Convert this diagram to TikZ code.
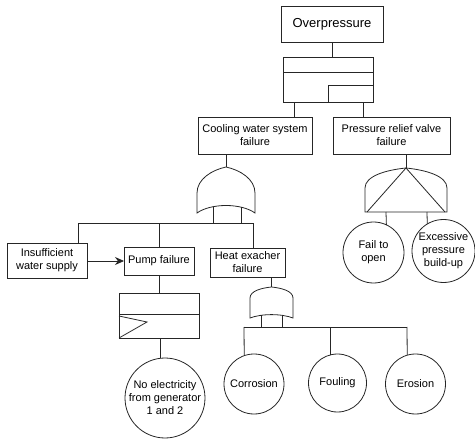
\documentclass[tikz,border=0pt]{standalone}
\usepackage{fontspec}
\setmainfont{Liberation Sans}
\usetikzlibrary{arrows.meta}
\begin{document}
\begin{tikzpicture}[x=1pt,y=-1pt,line width=0.8pt,color=black!85,
  box/.style={draw,rectangle,inner sep=0pt,outer sep=0pt,align=center,text=black,font=\fontsize{11}{13}\selectfont},
  plainbox/.style={draw,rectangle,inner sep=0pt,outer sep=0pt},
  evt/.style={draw,circle,inner sep=0pt,outer sep=0pt,align=center,text=black,font=\fontsize{11}{13}\selectfont}]
\useasboundingbox (0,0) rectangle (475,439);

% top event
\node[box,minimum width=102pt,minimum height=36pt,font=\fontsize{13}{15}\selectfont] (top) at (332,24) {Overpressure};
% priority gate box
\node[plainbox,minimum width=90pt,minimum height=45pt] (pri) at (328,79.5) {};
\draw (pri.west |- 0,72) -- (pri.east |- 0,72);
\draw (pri.south) -- ++(0,-17) -- (pri.east |- 0,85);
\draw (top.south -| pri.north) ++(4,0) -- ([xshift=4pt]pri.north);

% intermediate events
\node[box,minimum width=114pt,minimum height=37pt] (cool) at (255,135.5) {Cooling water system\\failure};
\node[box,minimum width=117pt,minimum height=37pt] (prv) at (391.5,135.5) {Pressure relief valve\\failure};
\draw (pri.south -| 294,0) -- (cool.north -| 294,0);
\draw (pri.south -| 363,0) -- (prv.north -| 363,0);

% OR gate under cooling
\coordinate (g1) at (226,167);
\draw[shift={(g1)}] (-29,46) -- (-29,26) .. controls (-29,12) and (-14,3) .. (0,0)
  .. controls (14,3) and (29,12) .. (29,26) -- (29,46) .. controls (15,36) and (-15,36) .. cycle;
\draw (cool.south -| g1) -- (g1);
\coordinate (bus1L) at (78,223);
\coordinate (bus1R) at (253,223);
\draw ([shift={(-13,39.5)}]g1) -- ([shift={(-13,56)}]g1);
\draw ([shift={(15,39.5)}]g1) -- ([shift={(15,56)}]g1);
\draw (bus1L) -- (bus1R);

% level 2 boxes
\node[box,minimum width=80pt,minimum height=35pt] (ins) at (47,260.5) {Insufficient\\water supply};
\node[box,minimum width=70pt,minimum height=28pt] (pump) at (159,261) {Pump failure};
\node[box,minimum width=75pt,minimum height=29pt] (heat) at (247.5,262.5) {Heat exacher\\failure};
\draw (bus1L) -- (bus1L |- ins.north);
\draw (pump.north |- bus1L) -- (pump.north);
\draw (bus1R) -- (bus1R |- heat.north);
\draw[-{Stealth[length=9pt,width=8pt]}] (ins.east |- pump.west) -- (pump.west);

% inhibit box under pump
\node[plainbox,minimum width=80pt,minimum height=45pt] (inh) at (159,315.5) {};
\draw (inh.west |- 0,314) -- (inh.east |- 0,314);
\draw (inh.west |- 0,316) -- (147,322) -- (inh.south west);
\draw (pump.south) -- (inh.north);
\node[evt,minimum size=80pt] (noel) at (165,398) {No electricity\\from generator\\1 and 2};
\draw (inh.south -| noel.97.2) -- (noel.97.2);

% gate under heat exchanger
\coordinate (g2) at (271.5,287);
\draw[shift={(g2)}] (-21.5,31) -- (-21.5,11) .. controls (-21.5,4) and (-10,1) .. (0,0)
  .. controls (10,1) and (21.5,4) .. (21.5,11) -- (21.5,31) .. controls (10,26.5) and (-10,26.5) .. cycle;
\draw (heat.south -| g2) -- (g2);
\draw ([shift={(-10.5,28)}]g2) -- ([shift={(-10.5,40)}]g2);
\draw ([shift={(10.5,28)}]g2) -- ([shift={(10.5,40)}]g2);
\coordinate (bus2L) at (244,327);
\coordinate (bus2R) at (407,327);
\draw (bus2L) -- (bus2R);
\node[evt,minimum size=60pt] (corr) at (254,384) {Corrosion};
\node[evt,minimum size=58pt] (foul) at (337.5,383) {Fouling};
\node[evt,minimum size=60pt] (eros) at (415.5,384) {Erosion};
\draw (bus2L) -- (corr.109.5);
\draw (foul.105 |- bus2L) -- (foul.105);
\draw (bus2R) -- (eros.106.5);

% gate under pressure relief valve
\coordinate (g3) at (406,168);
\draw[shift={(g3)}] (-41,44) -- (-41,20) .. controls (-41,8) and (-20,2) .. (0,0)
  .. controls (20,2) and (41,8) .. (41,20) -- (41,44) -- cycle;
\draw[shift={(g3)}] (-39,44) -- (0,0) -- (39,44);
\draw (prv.south -| g3) -- (g3);
\node[evt,minimum size=61pt] (fail) at (373.5,252.5) {Fail to\\open};
\node[evt,minimum size=63pt] (exc) at (443.5,251) {Excessive\\pressure\\build-up};
\draw ([shift={(-20,44)}]g3) -- (fail.65.8);
\draw ([shift={(21,44)}]g3) -- (exc.121.6);
\end{tikzpicture}
\end{document}
